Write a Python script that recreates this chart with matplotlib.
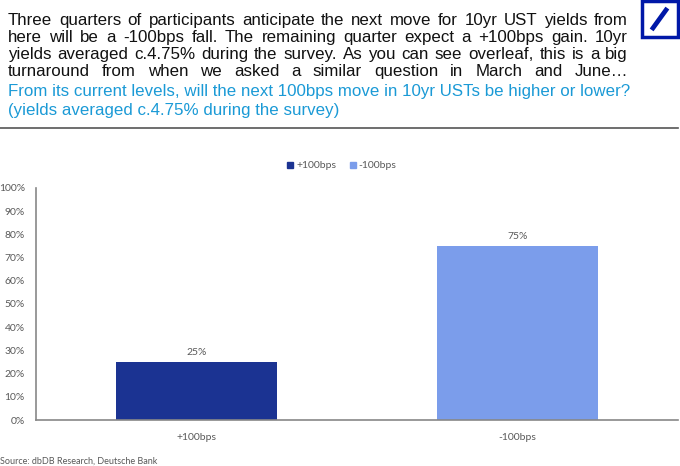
import matplotlib
matplotlib.use("Agg")
import matplotlib.pyplot as plt
from matplotlib.patches import Rectangle
from matplotlib.lines import Line2D

plt.rcParams['font.family'] = ['Liberation Sans', 'DejaVu Sans']

# chart data
categories = ['+100bps', '-100bps']
shares = [25, 75]
bar_colors = ['#1b3392', '#7b9deb']
y_ticks = list(range(0, 101, 10))

header_lines = [
    "Three quarters of participants anticipate the next move for 10yr UST yields from",
    "here will be a -100bps fall. The remaining quarter expect a +100bps gain. 10yr",
    "yields averaged c.4.75% during the survey. As you can see overleaf, this is a big",
    "turnaround from when we asked a similar question in March and June\u2026",
]
question_lines = [
    "From its current levels, will the next 100bps move in 10yr USTs be higher or lower?",
    "(yields averaged c.4.75% during the survey)",
]

W, H = 680, 466
fig = plt.figure(figsize=(W / 100, H / 100), dpi=100)
renderer = fig.canvas.get_renderer()
chart_font = ['Lato', 'DejaVu Sans']


def px(x, y):
    # pixel (from top-left) -> figure fraction
    return x / W, 1 - y / H


def text_width(s, size):
    t = fig.text(0, 0, s, fontsize=size)
    w = t.get_window_extent(renderer).width
    t.remove()
    return w


left, right = 8, 628
# pick a font size so the long blue line fills the text block
base = 10
fs = base * (right - left) / text_width(question_lines[0], base)

# black paragraph, justified word by word on a common baseline
baselines = [25, 42, 59, 76]
for line, yy in zip(header_lines, baselines):
    words = line.split(' ')
    widths = [text_width(w, fs) for w in words]
    gap = (right - left - sum(widths)) / (len(words) - 1)
    x = left
    for w, ww in zip(words, widths):
        fig.text(*px(x, yy), w, fontsize=fs, color='#111111', va='baseline', ha='left')
        x += ww + gap

# blue question
for line, yy in zip(question_lines, [96, 115]):
    fig.text(*px(left, yy), line, fontsize=fs, color='#1b9ad6', va='baseline', ha='left')

# separator
fig.add_artist(Line2D([0, 678 / W], [1 - 128 / H] * 2, color='#555555', lw=1.2))

# logo
x0, y0 = px(642, 37)
fig.add_artist(Rectangle((x0, y0), 36 / W, 36 / H, fill=False, ec='#0018a8', lw=2.5))
fig.add_artist(Line2D([653 / W, 666 / W], [1 - 28 / H, 1 - 10 / H], color='#0018a8', lw=3.4))

# chart
ax = fig.add_axes([36 / W, 1 - 420 / H, 642 / W, 232 / H])
xs = range(len(categories))
bars = ax.bar(xs, shares, width=0.5, color=bar_colors)
for b, v in zip(bars, shares):
    ax.text(b.get_x() + b.get_width() / 2, v + 2, f'{v}%', ha='center', va='bottom',
            fontsize=7.5, color='#595959', family=chart_font)

ax.set_xlim(-0.5, 1.5)
ax.set_ylim(0, 100)
ax.set_yticks(y_ticks)
ax.set_yticklabels([f'{t}%' for t in y_ticks], family=chart_font)
ax.set_xticks(list(xs))
ax.set_xticklabels(categories, family=chart_font)
ax.tick_params(axis='both', length=0, labelsize=7.5, colors='#595959')
ax.tick_params(axis='y', pad=8)
ax.tick_params(axis='x', pad=9)
for s in ['top', 'right']:
    ax.spines[s].set_visible(False)
for s in ['left', 'bottom']:
    ax.spines[s].set_color('#888888')
    ax.spines[s].set_linewidth(1.2)

handles = [Rectangle((0, 0), 1, 1, color=c) for c in bar_colors]
fig.legend(handles, categories, loc='center', bbox_to_anchor=px(342, 166), ncol=2,
           frameon=False, prop={'family': chart_font, 'size': 7.5}, labelcolor='#595959',
           handlelength=0.55, handleheight=0.55, handletextpad=0.3, columnspacing=1.3)

# source line at the bottom edge
fig.text(*px(0, 457), 'Source: dbDB Research, Deutsche Bank', fontsize=6.5, color='#595959',
         va='top', ha='left', family=chart_font)

fig.savefig('out.png', dpi=100)
